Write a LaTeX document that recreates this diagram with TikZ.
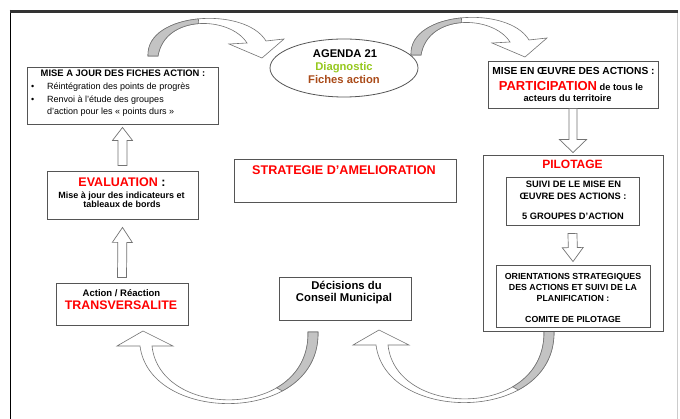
\documentclass[tikz,border=0pt]{standalone}
\usepackage{fontspec}
\setmainfont{Liberation Sans}
\usetikzlibrary{calc,shapes.geometric}
\definecolor{boxline}{RGB}{85,85,85}
\definecolor{ribline}{RGB}{115,115,115}
\definecolor{ribgray}{RGB}{195,195,195}
\definecolor{diag}{RGB}{150,200,30}
\definecolor{fiche}{RGB}{170,75,25}
\newcommand\fs[1]{\fontsize{#1}{#1}\selectfont}
% #1 head half width, #2 head length, #3 shaft half width, #4 start, #5 tip
\newcommand\blockarrow[5]{%
  \path #4 coordinate (bA) #5 coordinate (bB);
  \path ($(bB)!#2pt!(bA)$) coordinate (bH);
  \draw[blockarr] ($(bA)!#3pt!90:(bB)$) -- ($(bH)!#3pt!-90:(bA)$) -- ($(bH)!#1pt!-90:(bA)$) -- (bB)
     -- ($(bH)!#1pt!90:(bA)$) -- ($(bH)!#3pt!90:(bA)$) -- ($(bA)!#3pt!-90:(bB)$) -- cycle;}
\begin{document}
\begin{tikzpicture}[x=1pt,y=-1pt,
  box/.style={draw=boxline, line width=0.9pt, fill=white, inner sep=0pt},
  t/.style={anchor=base, inner sep=0pt, font=\bfseries},
  blockarr/.style={draw=ribline, line width=0.7pt, fill=white, line join=miter},
  ribbonstyle/.style={draw=ribline, line width=0.6pt, fill=white},
  ribbonshade/.style={draw=ribline, line width=0.6pt, fill=ribgray},
  ribbon top/.pic={
    \filldraw[ribbonstyle] (0,0) .. controls (-2,-44) and (97,-50) .. (118,-15) -- (136,-17) -- (114,2) -- (81,-12) -- (99,-13) .. controls (82,-40) and (17,-42) .. (10,0) -- cycle;
    \filldraw[ribbonshade] (0,0) .. controls (-1,-22) and (23.25,-34.5) .. (50.4,-37.1) -- (50.75,-32.4) .. controls (31.5,-31) and (13.5,-21) .. (10,0) -- cycle;
  },
  ribbon bottom/.pic={
    \filldraw[ribbonstyle] (0,0) .. controls (2,93) and (-168,93) .. (-178,14) -- (-201,14) -- (-175,-1) -- (-145,14) -- (-166,14) .. controls (-158,88) and (-8,88) .. (-10,0) -- cycle;
    \filldraw[ribbonshade] (0,0) .. controls (0.6,27.9) and (-14.28,47.43) .. (-35.68,58.97) -- (-41.3,55.82) .. controls (-22.48,44.88) and (-9.4,26.4) .. (-10,0) -- cycle;
  }]
\useasboundingbox (0,0) rectangle (680,419);
\fill[white] (0,0) rectangle (680,419);
% frame
\draw[black!20, line width=1pt] (677,12) -- (677,419);
\draw[black, line width=1.8pt] (10.5,10) -- (10.5,419);
\draw[black!80, line width=3.5pt] (9.6,11.5) -- (677.5,11.5);

% curved ribbon arrows
\pic at (148,56) {ribbon top};
\pic at (411,55) {ribbon top};
\pic at (318,332) {ribbon bottom};
\pic at (554,331) {ribbon bottom};

% boxes
\node[box, minimum width=191, minimum height=57] (fiches) at (122.5,95.5) {};
\node[box, minimum width=151, minimum height=48] (eval) at (122.5,195) {};
\node[box, minimum width=132, minimum height=42] (trans) at (122,304) {};
\node[box, minimum width=222, minimum height=43] (strat) at (345,180.5) {};
\node[box, minimum width=132, minimum height=43] (dec) at (345,298.5) {};
\node[box, minimum width=170, minimum height=47] (mise) at (573,84.5) {};
\node[box, minimum width=180, minimum height=176] (pilot) at (573,243) {};
\node[box, minimum width=133, minimum height=48] (in1) at (572.5,201) {};
\node[box, minimum width=154, minimum height=62] (in2) at (573,296) {};
\node[draw=boxline, line width=0.8pt, fill=white, ellipse, minimum width=148, minimum height=58, inner sep=0pt] (agenda) at (344,68) {};

% straight block arrows
\blockarrow{10}{13}{4.5}{($(eval.north)+(0,-5)$)}{($(fiches.south)+(0,3)$)}
\blockarrow{10}{15}{4.5}{($(trans.north)+(0,-5)$)}{($(eval.south)+(0,8)$)}
\blockarrow{13.5}{13}{4}{($(mise.south)+(0,0)$)}{($(pilot.north)+(0,-2)$)}
\blockarrow{10.5}{14}{4.5}{($(in1.south)+(0,8)$)}{($(in2.north)+(0,-3)$)}

% texts: fiches
\node[t, font=\bfseries\fs{9.4}] (fichesT) at (123,77) {MISE A JOUR DES FICHES ACTION :};
\node[t, anchor=base west, font=\fs{9}] (fb1) at (31,90) {•};
\node[t, anchor=base west, font=\fs{9}] (fl1) at (47,90) {Réintégration des points de progrès};
\node[t, anchor=base west, font=\fs{9}] (fb2) at (31,102.3) {•};
\node[t, anchor=base west, font=\fs{9}] (fl2) at (47,102.3) {Renvoi à l'étude des groupes};
\node[t, anchor=base west, font=\fs{9}] (fl3) at (47,114.6) {d'action pour les « points durs »};
% eval
\node[t, font=\bfseries\fs{12.5}] (evalT) at (122,187) {\textcolor{red}{EVALUATION}~:};
\node[t, font=\bfseries\fs{9}] (evalL1) at (121.5,199) {Mise à jour des indicateurs et};
\node[t, font=\bfseries\fs{9}] (evalL2) at (122,208) {tableaux de bords};
% trans
\node[t, font=\bfseries\fs{9.5}] (transL1) at (121.5,297) {Action / Réaction};
\node[t, font=\bfseries\fs{12.4}, text=red] (transT) at (121,309.5) {TRANSVERSALITE};
% strat
\node[t, font=\bfseries\fs{12.6}, text=red] (stratT) at (344,175) {STRATEGIE D'AMELIORATION};
% decisions
\node[t, font=\bfseries\fs{11.3}] (decL1) at (346.5,290) {Décisions du};
\node[t, font=\bfseries\fs{11.3}] (decL2) at (344,301.5) {Conseil Municipal};
% mise en oeuvre
\node[t, font=\bfseries\fs{10.2}] (miseL1) at (573.5,75) {MISE EN ŒUVRE DES ACTIONS :};
\node[t, font=\bfseries\fs{9.3}] (miseL2) at (571,91) {{\color{red}\fs{13}PARTICIPATION} de tous le};
\node[t, font=\bfseries\fs{9.3}] (miseL3) at (567.5,102) {acteurs du territoire};
% pilotage
\node[t, font=\bfseries\fs{12}, text=red] (pilotT) at (572.5,169) {PILOTAGE};
\node[t, font=\bfseries\fs{9.3}] (in1L1) at (573.5,188) {SUIVI DE LE MISE EN};
\node[t, font=\bfseries\fs{9.3}] (in1L2) at (573,200) {ŒUVRE DES ACTIONS :};
\node[t, font=\bfseries\fs{9.3}] (in1L3) at (573,220) {5 GROUPES D'ACTION};
\node[t, font=\bfseries\fs{8.8}] (in2L1) at (573,280) {ORIENTATIONS STRATEGIQUES};
\node[t, font=\bfseries\fs{8.8}] (in2L2) at (573,291) {DES ACTIONS ET SUIVI DE LA};
\node[t, font=\bfseries\fs{8.8}] (in2L3) at (573,302) {PLANIFICATION :};
\node[t, font=\bfseries\fs{8.8}] (in2L4) at (573,323) {COMITE DE PILOTAGE};
% agenda
\node[t, font=\bfseries\fs{11.2}] (agL1) at (345,58) {AGENDA 21};
\node[t, font=\bfseries\fs{11.2}, text=diag] (agL2) at (344,71) {Diagnostic};
\node[t, font=\bfseries\fs{11.2}, text=fiche] (agL3) at (344,84) {Fiches action};
\end{tikzpicture}
\end{document}
